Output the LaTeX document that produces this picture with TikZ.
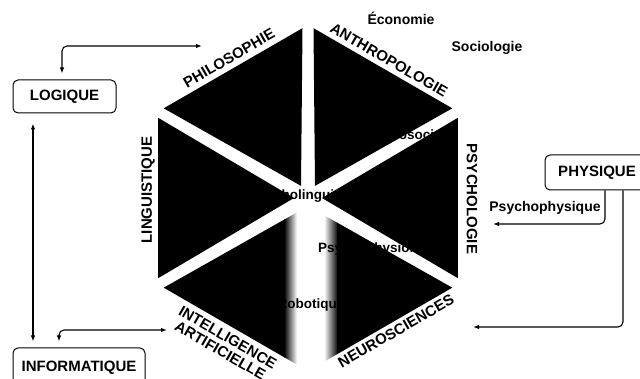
\documentclass[tikz,border=0pt]{standalone}
\usepackage{fontspec}
\setmainfont{Liberation Sans}
\usetikzlibrary{calc,arrows.meta}
\begin{document}
\begin{tikzpicture}[x=1pt,y=-1pt,
  box/.style={draw, line width=1pt, rounded corners=5pt, font=\fontsize{15}{17}\selectfont\bfseries, inner sep=0pt},
  lab/.style={font=\fontsize{15}{15}\selectfont\bfseries, inner sep=0pt},
  innertext/.style={font=\fontsize{13.5}{16}\selectfont\bfseries, inner sep=0pt},
  smalltext/.style={font=\fontsize{14}{16}\selectfont\bfseries, inner sep=0pt},
  arr/.style={line width=1.1pt, rounded corners=5pt, {Latex[length=6pt,width=4.5pt]}-{Latex[length=6pt,width=4.5pt]}},
  arrone/.style={line width=1.1pt, rounded corners=5pt, -{Latex[length=6pt,width=4.5pt]}}]
\useasboundingbox (0,0) rectangle (640,379);
\fill[white] (0,0) rectangle (640,379);

% hexagon geometry
\coordinate (C) at (308,198);
\coordinate (V0) at (308,25);
\coordinate (V1) at (457.8,111.5);
\coordinate (V2) at (457.8,284.5);
\coordinate (V3) at (308,371);
\coordinate (V4) at (158.2,284.5);
\coordinate (V5) at (158.2,111.5);
\foreach \ua/\ub/\k in {V0/V1/0,V1/V2/1,V2/V3/2,V3/V4/3,V4/V5/4,V5/V0/5}{
  \coordinate (sa\k) at ($(C)!14pt!($(\ua)!0.5!(\ub)$)$);
  \coordinate (sp\k) at ($(\ua)!6.35pt!(\ub)$);
  \coordinate (sq\k) at ($(\ub)!6.35pt!(\ua)$);
}

% fuzzy edges of the central strip
\begin{scope}
  \clip (sa3) -- (sp3) -- (sq3) -- cycle;
  \shade[left color=black, right color=white] (284,150) rectangle (297,379);
\end{scope}
\begin{scope}
  \clip (sa2) -- (sp2) -- (sq2) -- cycle;
  \shade[left color=white, right color=black] (324,150) rectangle (338,379);
\end{scope}

% inner texts (seen only through the gaps of the hexagon)
\begin{scope}
  \clip (V0) -- (V1) -- (V2) -- (V3) -- (V4) -- (V5) -- cycle;
  \node[innertext, anchor=west] (tling) at (250,196) {Psycholinguistique};
  \node[innertext, anchor=west] (tsoc) at (359,136) {Psychosociologie};
  \node[innertext, anchor=west] (tphy) at (318,249) {Psychophysiologie};
  \node[innertext] (trob) at (311,305) {Robotique};
\end{scope}

% sectors
\foreach \k in {0,1,4,5}{
  \fill[black] (sa\k) -- (sp\k) -- (sq\k) -- cycle;
}
\begin{scope}
  \clip (0,0) rectangle (285,379);
  \fill[black] (sa3) -- (sp3) -- (sq3) -- cycle;
\end{scope}
\begin{scope}
  \clip (337,0) rectangle (640,379);
  \fill[black] (sa2) -- (sp2) -- (sq2) -- cycle;
\end{scope}

% sector labels
\node[lab, rotate=30] (lphilo) at (229,58) {PHILOSOPHIE};
\node[lab, rotate=-30] (lanthro) at (389,60) {ANTHROPOLOGIE};
\node[lab, rotate=-90] (lpsy) at (472,199) {PSYCHOLOGIE};
\node[lab, rotate=90] (lling) at (148,190) {LINGUISTIQUE};
\node[lab, rotate=-30, align=center] (lia) at (224,344) {INTELLIGENCE\\ARTIFICIELLE};
\node[lab, rotate=30] (lneuro) at (396,331) {NEUROSCIENCES};

% outer texts
\node[smalltext] (eco) at (401,18) {Économie};
\node[smalltext] (soc) at (487,48) {Sociologie};
\node[smalltext] (psyphys) at (545,208) {Psychophysique};

% boxes
\node[box, minimum width=103pt, minimum height=33pt] (logique) at (64.5,96.5) {LOGIQUE};
\node[box, minimum width=132pt, minimum height=40pt] (info) at (79,368) {INFORMATIQUE};
\node[box, minimum width=104pt, minimum height=35pt] (phys) at (597,172.5) {PHYSIQUE};

% connectors
\coordinate (tPhilo) at (202,46);
\coordinate (tIA) at (167,330);
\coordinate (tPsy) at (493,224);
\coordinate (tNeuro) at (473,327);
\draw[arr, shorten <=6pt] ([xshift=-2.5pt]logique.north) |- (tPhilo);
\draw[arr, shorten <=10pt, shorten >=6pt] ([xshift=-31.5pt]logique.south) -- ([xshift=-46pt]info.north);
\draw[arr, shorten <=6pt] ([xshift=-20pt]info.north) |- (tIA);
\draw[arrone] ([xshift=8pt]phys.south) |- (tPsy);
\draw[arrone] ([xshift=26pt]phys.south) |- (tNeuro);
\end{tikzpicture}
\end{document}
